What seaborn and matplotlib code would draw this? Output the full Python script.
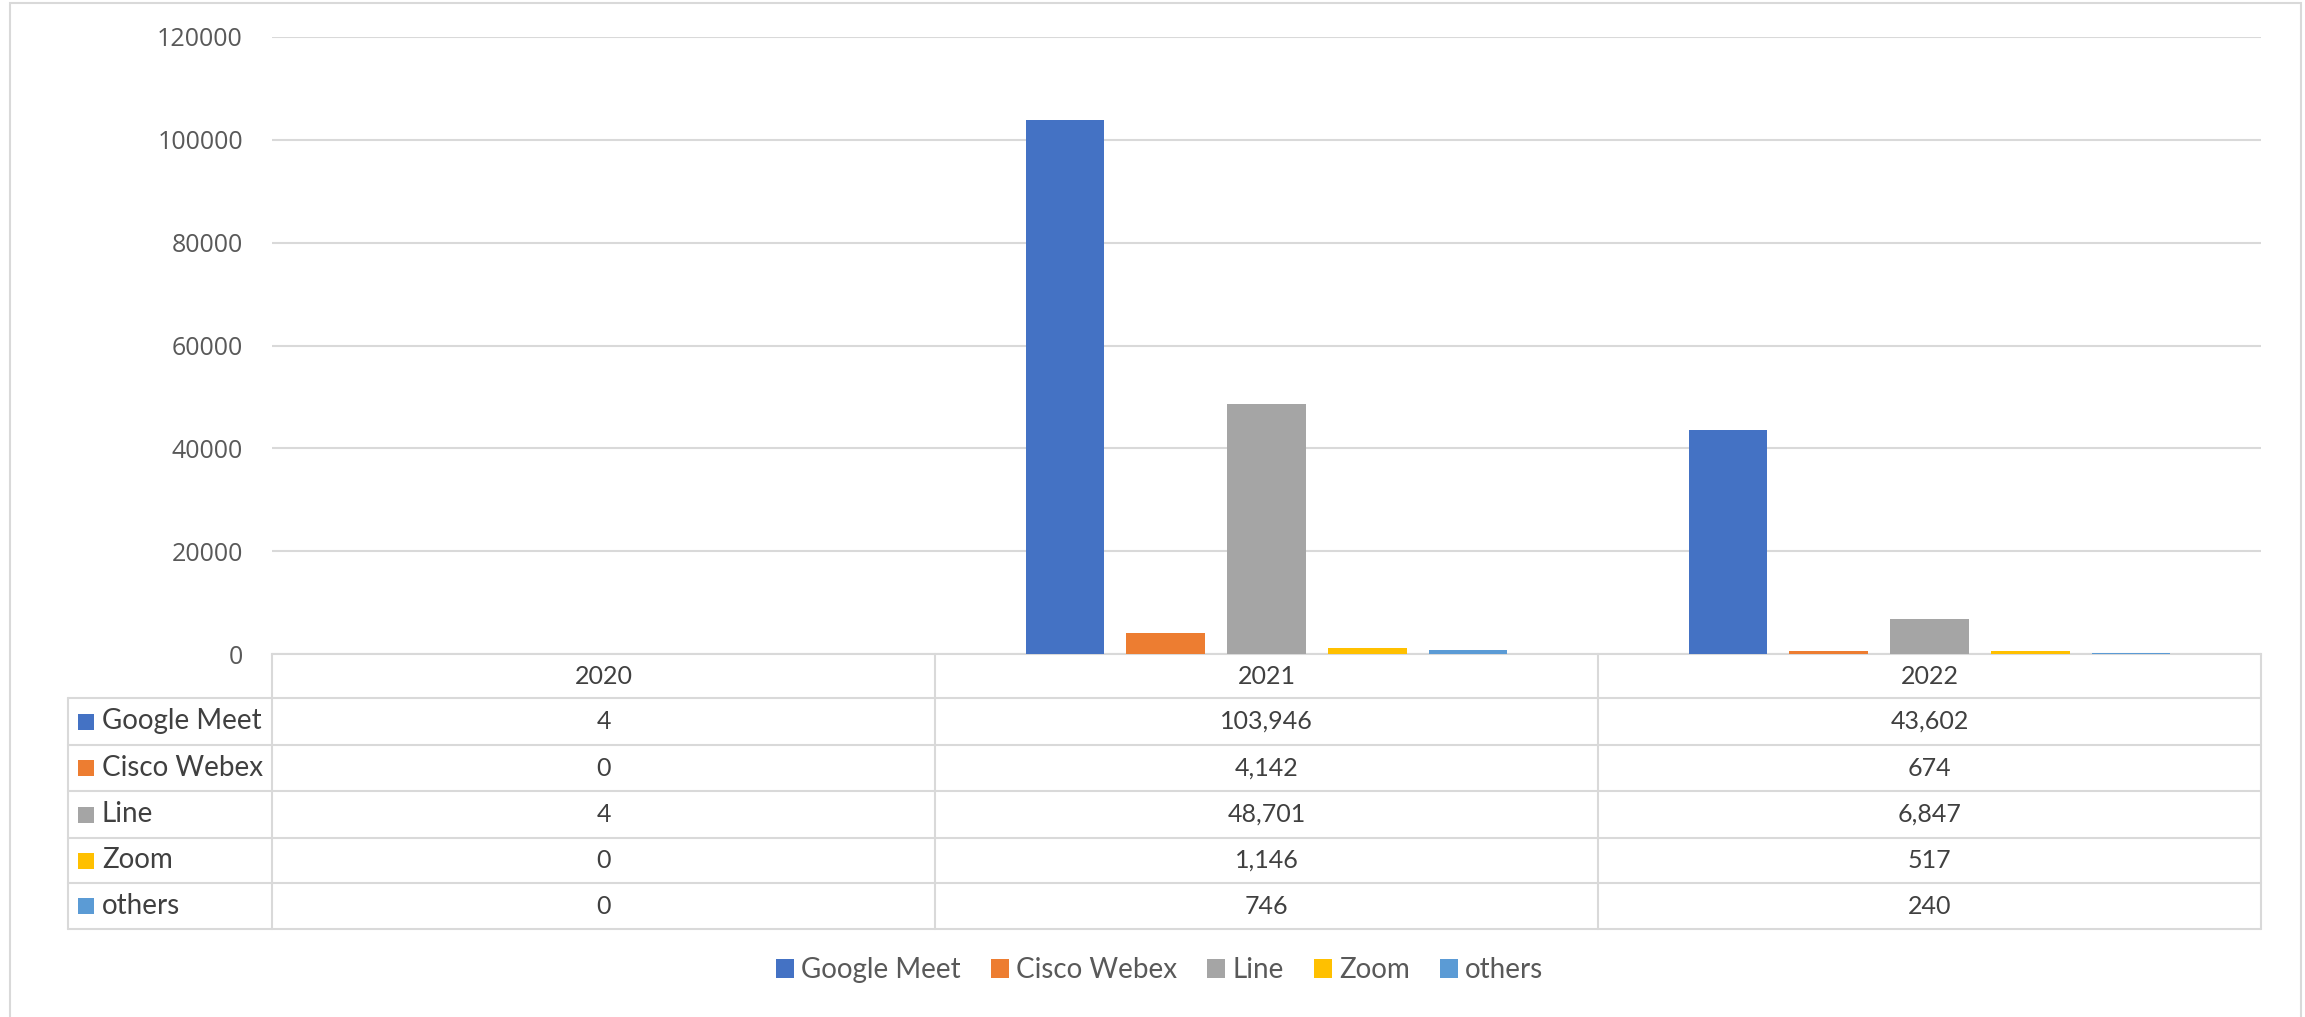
import numpy as np
import pandas as pd
import matplotlib
matplotlib.use("Agg")
import matplotlib.pyplot as plt
import matplotlib.transforms as mtransforms
from matplotlib.patches import Patch, Rectangle
import seaborn as sns

years = ["2020", "2021", "2022"]
platforms = ["Google Meet", "Cisco Webex", "Line", "Zoom", "others"]
google_meet = [4, 103946, 43602]
cisco_webex = [0, 4142, 674]
line_app = [4, 48701, 6847]
zoom = [0, 1146, 517]
others = [0, 746, 240]
colors = ["#4472C4", "#ED7D31", "#A5A5A5", "#FFC000", "#5B9BD5"]
y_ticks = [0, 20000, 40000, 60000, 80000, 100000, 120000]

series = [google_meet, cisco_webex, line_app, zoom, others]
rows = []
for name, vals in zip(platforms, series):
    for yr, v in zip(years, vals):
        rows.append({"year": yr, "platform": name, "count": v})
df = pd.DataFrame(rows)

sns.set_theme(style="white")
plt.rcParams["font.family"] = ["Open Sans", "DejaVu Sans"]

W, H = 2305, 1017
fig = plt.figure(figsize=(W / 100, H / 100), dpi=100)

def fx(px):
    return px / W

def fy(py):
    return 1 - py / H

ax_left, ax_right = 272, 2261
ax_top, ax_bottom = 37, 654
ax = fig.add_axes([fx(ax_left), fy(ax_bottom), fx(ax_right - ax_left), (ax_bottom - ax_top) / H])

sns.barplot(data=df, x="year", y="count", hue="platform", order=years, hue_order=platforms,
            palette=colors, saturation=1, width=0.76, gap=0.22, errorbar=None,
            legend=False, ax=ax)
for bar in ax.patches:
    bar.set_edgecolor("none")
    bar.set_zorder(2)

grid_col = "#D9D9D9"
ax.set_xlim(-0.5, 2.5)
ax.set_ylim(0, 120000)
ax.set_yticks(y_ticks)
ax.set_yticklabels([str(t) for t in y_ticks], fontsize=18, color="#595959")
ax.tick_params(axis="y", length=0, pad=21)
ax.tick_params(axis="x", length=0, labelbottom=False)
ax.set_xlabel("")
ax.set_ylabel("")
ax.yaxis.grid(True, color=grid_col, linewidth=1.5)
ax.set_axisbelow(True)
for side in ["left", "right", "top"]:
    ax.spines[side].set_visible(False)
ax.spines["bottom"].set_color(grid_col)
ax.spines["bottom"].set_linewidth(1.5)
ax.spines["bottom"].set_zorder(1)

# ---- data table under the plot ----
trans = mtransforms.blended_transform_factory(ax.transData, fig.transFigure)
row_y = [654, 698, 745, 791, 838, 883, 929]
lab_left = 68
x_left = ax.transData.inverted().transform(fig.transFigure.transform((fx(lab_left), 0)))[0]
tcol = "#404040"
tfont = ["Lato", "DejaVu Sans"]

line_kw = dict(color=grid_col, linewidth=1.5, transform=trans, clip_on=False)
for ry in row_y[1:]:
    ax.plot([x_left, 2.5], [fy(ry), fy(ry)], **line_kw)
ax.plot([x_left, x_left], [fy(row_y[1]), fy(row_y[-1])], **line_kw)
for xv in [-0.5, 0.5, 1.5, 2.5]:
    ax.plot([xv, xv], [fy(row_y[0]), fy(row_y[-1])], **line_kw)

for i, yr in enumerate(years):
    ax.text(i, fy((row_y[0] + row_y[1]) / 2), yr, transform=trans, ha="center", va="center",
            fontsize=18, color=tcol, family=tfont)

for r, (name, vals, c) in enumerate(zip(platforms, series, colors)):
    yc = (row_y[r + 1] + row_y[r + 2]) / 2
    for i, v in enumerate(vals):
        ax.text(i, fy(yc), f"{v:,}", transform=trans, ha="center", va="center",
                fontsize=18, color=tcol, family=tfont)
    fig.patches.append(Rectangle((fx(78), fy(yc + 8)), fx(16), 16 / H, facecolor=c,
                                 edgecolor="none", transform=fig.transFigure))
    fig.text(fx(102), fy(yc), name, ha="left", va="center", fontsize=20, color=tcol, family=tfont)

# legend
handles = [Patch(facecolor=c, edgecolor="none") for c in colors]
fig.legend(handles=handles, labels=platforms, loc="center", bbox_to_anchor=(0.503, fy(970)),
           ncol=5, frameon=False, handlelength=0.65, handleheight=0.65, handletextpad=0.26,
           columnspacing=1.08, prop={"family": tfont, "size": 20}, labelcolor="#595959")

# outer chart border
fig.patches.append(Rectangle((fx(10), -0.01), fx(2291), 1.01 - 3 / H, fill=False,
                             edgecolor=grid_col, linewidth=1.5, transform=fig.transFigure))

fig.savefig("out.png", dpi=100)
